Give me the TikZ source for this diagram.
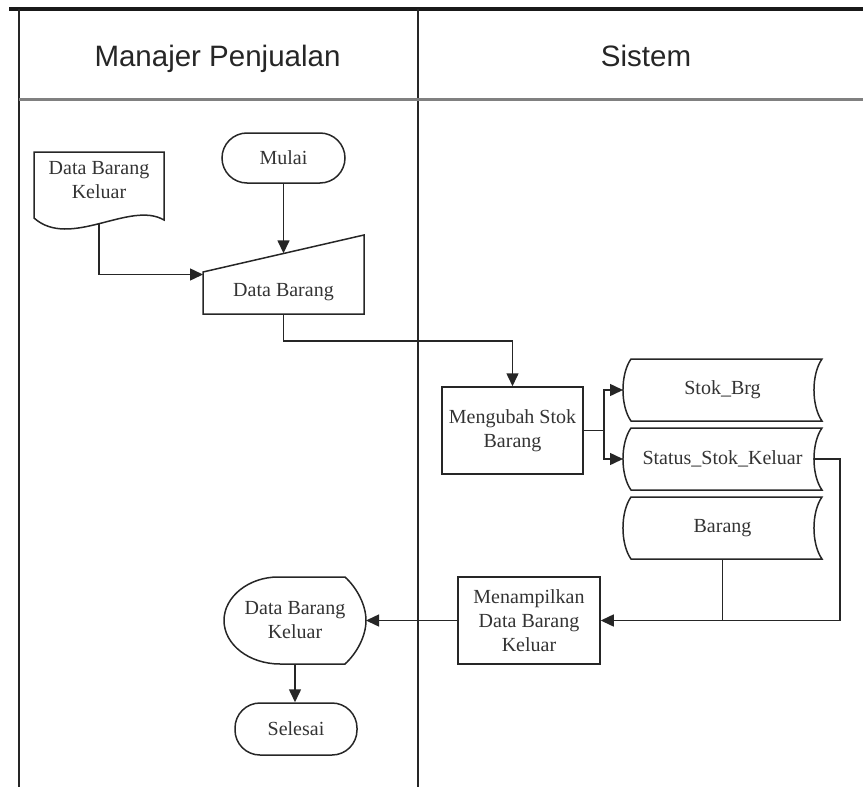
\documentclass[tikz,border=0pt]{standalone}
\usepackage{fontspec}
\setmainfont{Liberation Serif}
\newfontfamily\hdrfont{Liberation Sans}
\usetikzlibrary{arrows.meta,calc}
\begin{document}
\begin{tikzpicture}[x=1pt,y=-1pt,
  ln/.style={draw=black!85, line width=1.5pt},
  conn/.style={ln, -{Triangle[length=13pt,width=12pt]}},
  txt/.style={text=black!80, font=\fontsize{20}{24}\selectfont, align=center},
  term/.style={txt, ln, rectangle, rounded corners=25pt, inner sep=0pt},
  procbox/.style={txt, ln, rectangle, inner sep=0pt},
  frame/.style={txt, draw=none, rectangle, inner sep=0pt, outer sep=0pt},
  hdr/.style={text=black!85, font=\hdrfont\fontsize{29.5}{35}\selectfont, anchor=base},
  lane/.style={draw=black!85, line width=1.3pt},
]
\useasboundingbox (0,0) rectangle (863,787);

% swimlanes
\draw[line width=4pt, draw=black!90] (9,9) -- (863,9);
\draw[lane] (19,9) -- (19,787);
\draw[lane] (418,9) -- (418,787);
\draw[line width=2.5pt, draw=black!50] (19,99.5) -- (863,99.5);
\node[hdr] (h1) at (217.5,66.7) {Manajer Penjualan};
\node[hdr] (h2) at (646,66.7) {Sistem};

% Mulai
\node[term, minimum width=123pt, minimum height=50pt] (mulai) at (283.5,158) {Mulai};

% document
\node[frame, minimum width=130pt, minimum height=52pt] (doc) at (99,180) {Data Barang\\Keluar};
\draw[ln] (34,218) -- (34,152) -- (164,152) -- (164,220) .. controls (130,200) and (70,250) .. (34,218) -- cycle;
\coordinate (docb) at (99,223.5);

% manual input
\node[frame, minimum width=161pt, minimum height=79pt] (inp) at (283.5,274.5) {};
\draw[ln] (inp.south west) -- (inp.south east) -- (inp.north east) -- ($(inp.north west)+(0,37)$) -- cycle;
\node[txt] (inptxt) at (283.5,292) {Data Barang};
\coordinate (inptop) at (283.5,253.3);

% process boxes
\node[procbox, minimum width=141pt, minimum height=87pt] (ubah) at (512.5,430.5) {Mengubah Stok\\Barang};
\node[procbox, minimum width=142pt, minimum height=87pt] (tampil) at (529,620.5) {Menampilkan\\Data Barang\\Keluar};

% stored data
\newcommand{\storedshape}[1]{%
  \draw[ln] ($(#1.north west)+(8,0)$) -- (#1.north east)
    .. controls ($(#1.north east)+(-10.7,15)$) and ($(#1.south east)+(-10.7,-15)$) .. (#1.south east)
    -- ($(#1.south west)+(8,0)$)
    .. controls ($(#1.south west)+(-2.7,-15)$) and ($(#1.north west)+(-2.7,15)$) .. ($(#1.north west)+(8,0)$) -- cycle;}
\node[frame, minimum width=199pt, minimum height=62pt] (stok) at (722.5,390) {Stok\_Brg};
\node[frame, minimum width=199pt, minimum height=62pt] (status) at (722.5,459) {Status\_Stok\_Keluar};
\node[frame, minimum width=199pt, minimum height=62pt] (barang) at (722.5,528) {Barang};
\storedshape{stok}
\storedshape{status}
\storedshape{barang}

% display
\node[frame, minimum width=142pt, minimum height=87pt] (disp) at (295,620.5) {Data Barang\\Keluar};
\draw[ln] (278,577) -- (345,577)
  .. controls (357,588) and (366,605) .. (366,620.5)
  .. controls (366,636) and (357,653) .. (345,664)
  -- (280,664)
  .. controls (249,664) and (224,644.5) .. (224,620.5)
  .. controls (224,596.5) and (249,577) .. (278,577) -- cycle;

% Selesai
\node[term, minimum width=122pt, minimum height=52pt] (selesai) at (296,729) {Selesai};

% connectors
\draw[conn] (mulai.south) -- (inptop);
\draw[conn] (docb) |- (inp.west);
\draw[conn] (inp.south) -- ++(0,27) -| (ubah.north);
\draw[conn] (ubah.east) -- ++(20,0) |- (stok.west);
\draw[conn] (ubah.east) -- ++(20,0) |- (status.west);
\draw[conn] ([xshift=-8pt]status.east) -- ++(26,0) |- (tampil.east);
\draw[ln] (barang.south) -- (barang.south |- tampil.east);
\draw[conn] (tampil.west) -- (disp.east);
\draw[conn] (disp.south) -- (disp.south |- selesai.north);
\end{tikzpicture}
\end{document}
